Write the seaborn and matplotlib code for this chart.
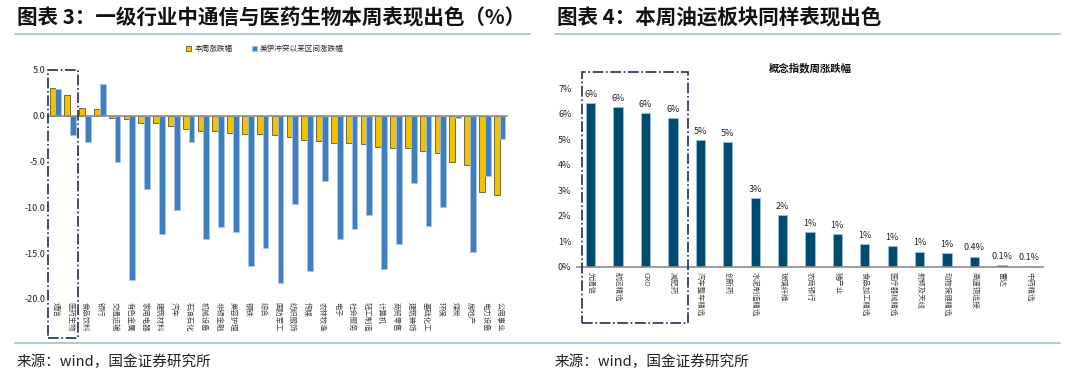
import matplotlib
matplotlib.use("Agg")
import matplotlib.pyplot as plt
import matplotlib.patches as mpatches
from matplotlib.lines import Line2D
import numpy as np
import pandas as pd
import seaborn as sns

sns.set_theme(style="white")
plt.rcParams["font.family"] = ["Noto Sans CJK SC", "DejaVu Sans"]
plt.rcParams["axes.unicode_minus"] = False

# left chart: SW level-1 industries
industries = ["通信", "医药生物", "食品饮料", "银行", "交通运输", "有色金属", "家用电器",
              "建筑材料", "汽车", "石油石化", "机械设备", "非银金融", "美容护理", "钢铁",
              "综合", "国防军工", "纺织服饰", "传媒", "农林牧渔", "电子", "社会服务",
              "轻工制造", "计算机", "商贸零售", "建筑装饰", "基础化工", "环保", "煤炭",
              "房地产", "电力设备", "公用事业"]
week_chg = [3.03, 2.30, 0.84, 0.70, -0.26, -0.40, -0.77, -0.84, -1.13, -1.46, -1.64,
            -1.68, -1.83, -1.95, -2.00, -2.08, -2.26, -2.59, -2.77, -2.92, -3.00, -3.10,
            -3.43, -3.47, -3.54, -3.83, -4.09, -5.07, -5.40, -8.36, -8.69]
since_chg = [2.92, -2.10, -2.90, 3.47, -5.07, -17.96, -7.96, -12.90, -10.30, -2.90,
             -13.40, -12.10, -12.70, -16.35, -14.45, -18.25, -9.67, -16.90, -7.08,
             -13.47, -12.40, -10.84, -16.70, -13.98, -7.34, -12.00, -9.93, -0.26,
             -14.90, -6.57, -2.56]
series_names = ["本周涨跌幅", "美伊冲突以来区间涨跌幅"]

# right chart: concept indices
concepts = ["光通信", "航运精选", "CRO", "减肥药", "汽车整车精选", "创新药", "水泥制造精选",
            "玻璃纤维", "农商银行", "猪产业", "食品加工精选", "医疗器械精选", "射频及天线",
            "动物保健精选", "高速铜连接", "雷达", "中药精选"]
concept_chg = [6.41, 6.24, 6.02, 5.82, 4.97, 4.87, 2.71, 2.02, 1.38, 1.28, 0.89, 0.82,
               0.60, 0.56, 0.41, 0.07, 0.05]
concept_lbl = ["6%", "6%", "6%", "6%", "5%", "5%", "3%", "2%", "1%", "1%", "1%", "1%",
               "1%", "1%", "0.4%", "0.1%", "0.1%"]

W, H = 1080, 374
fig = plt.figure(figsize=(W / 100, H / 100), dpi=100)


def fx(px):
    return px / W


def fy(py):
    return 1 - py / H


# headers, rules, footers
fig.text(fx(17), fy(18), "图表 3：一级行业中通信与医药生物本周表现出色（%）",
         fontsize=14.8, weight="bold", va="center", ha="left", color="#111111")
fig.text(fx(557), fy(18), "图表 4：本周油运板块同样表现出色",
         fontsize=14.8, weight="bold", va="center", ha="left", color="#111111")
rule = "#A9C3D8"
fig.add_artist(Line2D([fx(15), fx(530)], [fy(34), fy(34)], color=rule, lw=1.3))
fig.add_artist(Line2D([fx(555), fx(1060)], [fy(34), fy(34)], color=rule, lw=1.3))
fig.add_artist(Line2D([fx(15), fx(1060)], [fy(343), fy(343)], color=rule, lw=1.3))
fig.text(fx(17), fy(362), "来源：wind，国金证券研究所", fontsize=10.5, va="center", color="#222222")
fig.text(fx(555), fy(362), "来源：wind，国金证券研究所", fontsize=10.5, va="center", color="#222222")

# ---- left chart
ax1 = fig.add_axes([fx(48), fy(299), fx(507 - 48), (299 - 70) / H])
df = pd.DataFrame({
    "industry": industries * 2,
    "value": week_chg + since_chg,
    "series": [series_names[0]] * len(industries) + [series_names[1]] * len(industries),
})
yellow, blue = "#F2C100", "#3F7EC1"
sns.barplot(data=df, x="industry", y="value", hue="series", hue_order=series_names,
            palette=[yellow, blue], width=0.78, ax=ax1, legend=False, saturation=1)
for cont, ec in zip(ax1.containers, ["#5B5A2E", "#A9C8E8"]):
    for p in cont:
        p.set_edgecolor(ec)
        p.set_linewidth(0.6)
ax1.set_ylim(-20, 5)
ax1.set_xlim(-0.5, len(industries) - 0.5)
ax1.set_yticks(np.arange(-20, 5.1, 5))
ax1.set_yticklabels([f"{v:.1f}" for v in np.arange(-20, 5.1, 5)], fontsize=6.5, color="#222222")
ax1.tick_params(axis="y", length=0, pad=2)
ax1.set_xticks([])
ax1.set_xticks(np.arange(len(industries) + 1) - 0.5, minor=True)
ax1.tick_params(axis="x", which="minor", direction="out", length=2.5, color="#808080", width=0.8)
for s in ["top", "right", "left"]:
    ax1.spines[s].set_visible(False)
ax1.spines["bottom"].set_position(("data", 0))
ax1.spines["bottom"].set_color("#8C8C8C")
ax1.spines["bottom"].set_linewidth(1.2)
ax1.set_xlabel("")
ax1.set_ylabel("")
for i, name in enumerate(industries):
    ax1.text(i, -20.35, name, rotation=-90, ha="center", va="top", fontsize=5.3,
             color="#444444")

handles = [mpatches.Patch(facecolor=yellow, edgecolor="#5B5A2E", lw=0.6),
           mpatches.Patch(facecolor=blue, edgecolor="#A9C8E8", lw=0.6)]
fig.legend(handles, series_names, loc="center", bbox_to_anchor=(fx(265), fy(49)), ncol=2,
           frameon=False, fontsize=5.5, handlelength=0.7, handleheight=0.7,
           columnspacing=2.5, handletextpad=0.4)

# ---- right chart
ax2 = fig.add_axes([fx(577), fy(267), fx(1043 - 577), (267 - 88) / H])
navy = "#004B6F"
sns.barplot(x=concepts, y=concept_chg, color=navy, width=0.34, ax=ax2, saturation=1)
for p in ax2.patches:
    p.set_edgecolor("#9CC0DA")
    p.set_linewidth(0.6)
ax2.bar_label(ax2.containers[0], labels=concept_lbl, fontsize=6.5, padding=3, color="#222222")
ax2.set_ylim(0, 7)
ax2.set_xlim(-0.5, len(concepts) - 0.5)
ax2.set_yticks(range(0, 8))
ax2.set_yticklabels([f"{v}%" for v in range(0, 8)], fontsize=6.5, color="#222222")
ax2.tick_params(axis="y", length=0, pad=4)
ax2.set_xticks([])
ax2.set_xticks(np.arange(len(concepts) + 1) - 0.5, minor=True)
ax2.tick_params(axis="x", which="minor", direction="out", length=2.5, color="#808080", width=0.8)
for s in ["top", "right", "left"]:
    ax2.spines[s].set_visible(False)
ax2.spines["bottom"].set_color("#8C8C8C")
ax2.spines["bottom"].set_linewidth(1.2)
for i, name in enumerate(concepts):
    ax2.text(i, -0.18, name, rotation=-90, ha="center", va="top", fontsize=5.3, color="#444444")
fig.text(fx(810), fy(68), "概念指数周涨跌幅", ha="center", va="center", fontsize=7.5,
         weight="bold", color="#111111")

# highlight boxes
box_c = "#1F2F4A"
fig.add_artist(mpatches.Rectangle((fx(48), fy(338)), fx(78 - 48), (338 - 70) / H,
                                  fill=False, ls="-.", lw=1.2, ec=box_c))
fig.add_artist(mpatches.Rectangle((fx(582), fy(323)), fx(688 - 582), (323 - 72) / H,
                                  fill=False, ls="-.", lw=1.2, ec=box_c))

fig.savefig("out.png", dpi=100)
plt.close(fig)
